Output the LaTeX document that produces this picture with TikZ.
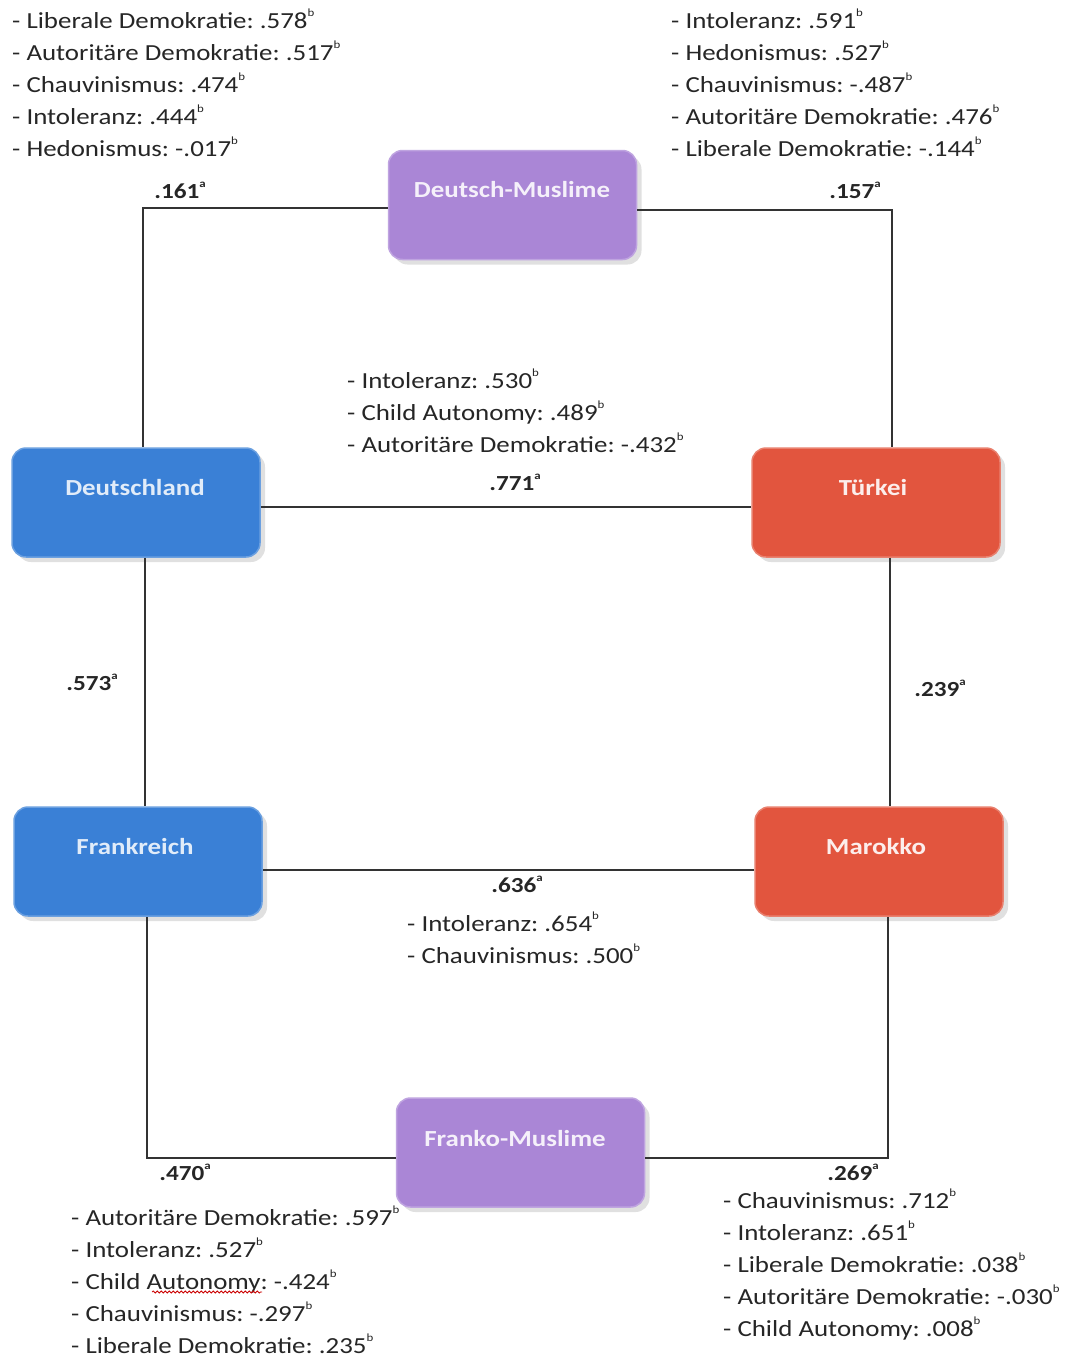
\documentclass[tikz,border=0pt]{standalone}
\usepackage{fontspec}
\setmainfont{Carlito}[FakeStretch=1.17]
\usetikzlibrary{shadows,decorations.pathmorphing}
\definecolor{boxblue}{HTML}{3A80D6}
\definecolor{boxred}{HTML}{E2553E}
\definecolor{boxpurple}{HTML}{AA86D6}
\definecolor{txtgray}{HTML}{262626}
\definecolor{linegray}{HTML}{333333}
\newcommand\supx[1]{\raisebox{0.5em}{\fontsize{11}{11}\selectfont #1}}
\frenchspacing
\tikzset{
  cbox/.style={rectangle, rounded corners=14pt, minimum width=248pt, minimum height=109pt,
    inner sep=0pt, line width=1.5pt,
    drop shadow={shadow xshift=5pt, shadow yshift=-5pt, fill=black, opacity=0.12}},
  bluebox/.style={cbox, fill=boxblue, draw=boxblue!75!white},
  redbox/.style={cbox, fill=boxred, draw=boxred!75!white},
  purplebox/.style={cbox, fill=boxpurple, draw=boxpurple!75!white},
  boxtext/.style={font=\fontsize{23}{26}\selectfont\bfseries, inner sep=0pt},
  list/.style={anchor=north west, align=left, inner sep=0pt, text=txtgray,
    font=\fontsize{23}{32}\selectfont},
  coef/.style={inner sep=0pt, text=txtgray, font=\fontsize{21.5}{24}\selectfont\bfseries},
  conn/.style={draw=linegray, line width=1.8pt},
}
\begin{document}
\begin{tikzpicture}[x=1pt,y=-1pt]
\useasboundingbox[fill=white] (0,0) rectangle (1065,1360);

% boxes
\node[purplebox] (dm) at (512.5,205) {};
\node[bluebox] (de) at (136,502.5) {};
\node[redbox] (tr) at (876,502.5) {};
\node[bluebox] (fr) at (138,861.5) {};
\node[redbox] (ma) at (879,861.5) {};
\node[purplebox] (fm) at (520.5,1152.5) {};

\node[boxtext, text=boxpurple!12!white] (dmt) at (512,190) {Deutsch-Muslime};
\node[boxtext, text=boxblue!15!white] (det) at (135,488) {Deutschland};
\node[boxtext, text=boxred!10!white] (trt) at (873,488) {Türkei};
\node[boxtext, text=boxblue!15!white] (frt) at (135,847) {Frankreich};
\node[boxtext, text=boxred!10!white] (mat) at (876,847) {Marokko};
\node[boxtext, text=boxpurple!12!white] (fmt) at (515,1139) {Franko-Muslime};

% connectors
\draw[conn] ([yshift=-3pt]dm.west) -| ([xshift=7pt]de.north);
\draw[conn] ([yshift=-5pt]dm.east) -| ([xshift=16pt]tr.north);
\draw[conn] ([yshift=-4.5pt]de.east) -- ([yshift=-4.5pt]tr.west);
\draw[conn] ([xshift=9pt]de.south) -- ([xshift=7pt]fr.north);
\draw[conn] ([xshift=14pt]tr.south) -- ([xshift=11pt]ma.north);
\draw[conn] ([yshift=-8.5pt]fr.east) -- ([yshift=-8.5pt]ma.west);
\draw[conn] ([xshift=9pt]fr.south) |- ([yshift=-5.5pt]fm.west);
\draw[conn] ([xshift=9pt]ma.south) |- ([yshift=-5.5pt]fm.east);

% coefficients
\node[coef] (c161) at (180,190) {.161\supx{a}};
\node[coef] (c157) at (855,190) {.157\supx{a}};
\node[coef] (c771) at (515,482) {.771\supx{a}};
\node[coef] (c573) at (92,682) {.573\supx{a}};
\node[coef] (c239) at (940,688) {.239\supx{a}};
\node[coef] (c636) at (517,884) {.636\supx{a}};
\node[coef] (c470) at (185,1172) {.470\supx{a}};
\node[coef] (c269) at (853,1172) {.269\supx{a}};

% lists
\node[list] (ltl) at (12,9) {- Liberale Demokratie: .578\supx{b}\\
- Autoritäre Demokratie: .517\supx{b}\\
- Chauvinismus: .474\supx{b}\\
- Intoleranz: .444\supx{b}\\
- Hedonismus: -.017\supx{b}};

\node[list] (ltr) at (671,9) {- Intoleranz: .591\supx{b}\\
- Hedonismus: .527\supx{b}\\
- Chauvinismus: -.487\supx{b}\\
- Autoritäre Demokratie: .476\supx{b}\\
- Liberale Demokratie: -.144\supx{b}};

\node[list] (lc) at (347,369) {- Intoleranz: .530\supx{b}\\
- Child Autonomy: .489\supx{b}\\
- Autoritäre Demokratie: -.432\supx{b}};

\node[list] (lm) at (407,912) {- Intoleranz: .654\supx{b}\\
- Chauvinismus: .500\supx{b}};

\node[list] (lbl) at (71,1206) {- Autoritäre Demokratie: .597\supx{b}\\
- Intoleranz: .527\supx{b}\\
- Child Autonomy: -.424\supx{b}\\
- Chauvinismus: -.297\supx{b}\\
- Liberale Demokratie: .235\supx{b}};

\node[list] (lbr) at (723,1189) {- Chauvinismus: .712\supx{b}\\
- Intoleranz: .651\supx{b}\\
- Liberale Demokratie: .038\supx{b}\\
- Autoritäre Demokratie: -.030\supx{b}\\
- Child Autonomy: .008\supx{b}};

% spell-check underline
\draw[red!80!black, line width=0.8pt, decorate, decoration={snake, amplitude=1pt, segment length=4pt}] (152,1292) -- (262,1292);
\end{tikzpicture}
\end{document}
